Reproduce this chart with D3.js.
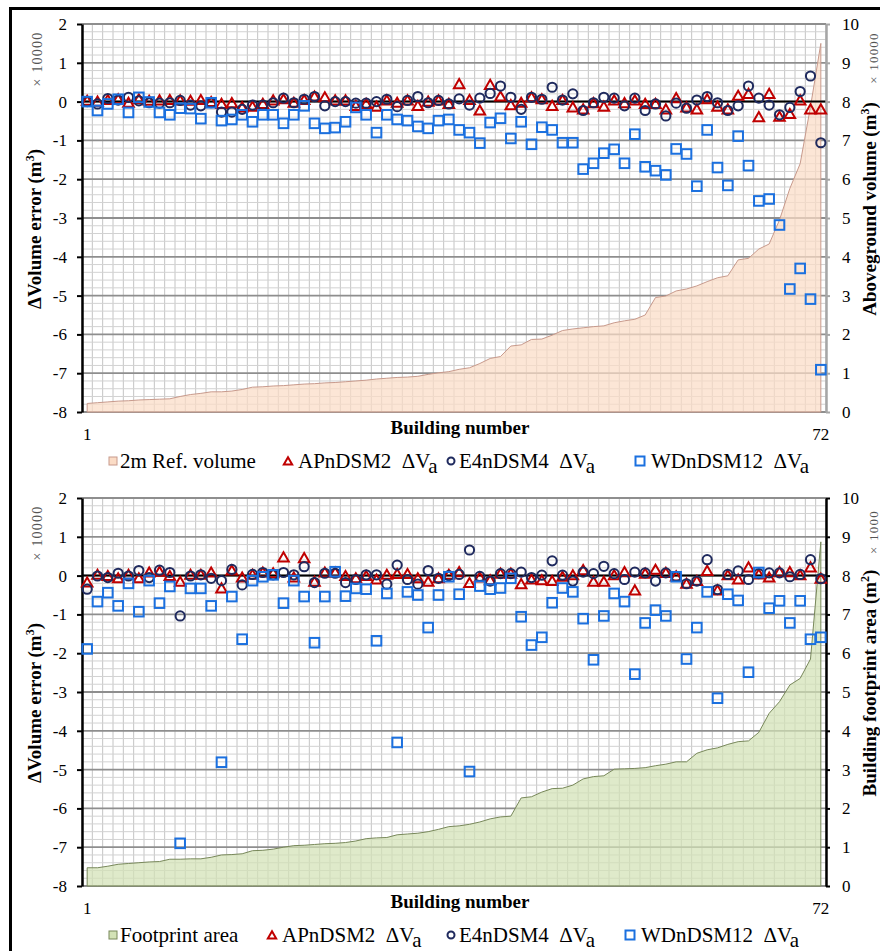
<!DOCTYPE html>
<html>
<head>
<meta charset="utf-8">
<script src="https://cdn.jsdelivr.net/npm/d3@7/dist/d3.min.js"></script>
<style>
  body { margin: 0; background: #fff; }
</style>
</head>
<body>
<script>
// DATA (errors in x10000 m3, volume in x10000 m3, area in x1000 m2)

var buildings = d3.range(1, 73);

var refVolume = [0.22, 0.24, 0.26, 0.28, 0.29, 0.31, 0.32, 0.33, 0.34, 0.40, 0.45, 0.48, 0.52, 0.52, 0.54, 0.58, 0.64, 0.65,
  0.67, 0.68, 0.70, 0.72, 0.73, 0.75, 0.76, 0.78, 0.80, 0.82, 0.85, 0.87, 0.89, 0.90, 0.92, 0.97, 1.01, 1.04,
  1.10, 1.14, 1.25, 1.38, 1.43, 1.70, 1.73, 1.87, 1.88, 1.98, 2.10, 2.14, 2.17, 2.20, 2.22, 2.30, 2.35, 2.39,
  2.50, 2.95, 2.99, 3.12, 3.17, 3.25, 3.36, 3.46, 3.51, 3.92, 3.96, 4.20, 4.33, 4.95, 5.76, 6.40, 7.87, 9.50];

var volAPn = [0.02, 0.00, 0.04, 0.06, -0.03, 0.06, 0.02, 0.03, 0.04, 0.03, 0.02, 0.04, -0.01, -0.06, -0.04, -0.15, -0.13, -0.06,
  0.03, 0.06, -0.03, 0.04, 0.13, 0.11, 0.03, 0.03, -0.11, -0.06, -0.13, 0.03, -0.03, 0.03, -0.11, 0.00, 0.03, -0.06,
  0.45, 0.04, -0.23, 0.43, 0.13, -0.09, -0.03, 0.11, 0.06, -0.11, 0.04, -0.15, -0.20, -0.04, -0.13, 0.03, -0.04, 0.03,
  -0.06, -0.06, -0.20, 0.09, -0.15, -0.20, 0.06, -0.13, -0.20, 0.15, 0.20, -0.40, 0.20, -0.39, -0.32, 0.03, -0.20, -0.20];

var volE4n = [0.00, -0.06, 0.08, 0.04, 0.11, 0.02, -0.03, -0.04, -0.03, 0.03, -0.09, -0.11, -0.03, -0.27, -0.27, -0.20, -0.09, -0.09,
  -0.03, 0.09, -0.03, 0.06, 0.13, -0.11, 0.00, 0.00, -0.04, -0.04, 0.00, 0.06, -0.13, 0.03, 0.13, -0.03, 0.03, -0.06,
  0.07, -0.09, 0.09, 0.21, 0.40, 0.11, -0.20, 0.11, 0.06, 0.37, 0.04, 0.20, -0.23, -0.03, 0.11, 0.09, -0.11, 0.09,
  -0.23, -0.06, -0.37, -0.04, -0.17, 0.04, 0.13, -0.03, -0.23, -0.11, 0.40, 0.09, -0.09, -0.34, -0.15, 0.26, 0.66, -1.06];

var volWDn = [0.00, -0.23, -0.06, 0.06, -0.28, 0.11, -0.01, -0.28, -0.34, -0.17, -0.18, -0.44, -0.03, -0.49, -0.46, -0.34, -0.52, -0.34,
  -0.34, -0.56, -0.34, -0.11, -0.56, -0.69, -0.67, -0.52, -0.15, -0.34, -0.80, -0.34, -0.46, -0.49, -0.64, -0.69, -0.49, -0.46,
  -0.73, -0.80, -1.07, -0.54, -0.43, -0.95, -0.52, -1.10, -0.66, -0.73, -1.06, -1.06, -1.74, -1.59, -1.33, -1.23, -1.59, -0.84,
  -1.68, -1.78, -1.89, -1.22, -1.35, -2.18, -0.73, -1.70, -2.16, -0.89, -1.65, -2.56, -2.51, -3.18, -4.83, -4.30, -5.09, -6.91];

var footprint = [0.47, 0.47, 0.51, 0.56, 0.58, 0.60, 0.62, 0.63, 0.69, 0.69, 0.70, 0.70, 0.74, 0.80, 0.81, 0.83, 0.91, 0.92,
  0.95, 1.00, 1.04, 1.05, 1.07, 1.09, 1.10, 1.12, 1.16, 1.22, 1.24, 1.25, 1.32, 1.34, 1.36, 1.40, 1.46, 1.53,
  1.55, 1.59, 1.65, 1.73, 1.78, 1.80, 2.27, 2.30, 2.42, 2.51, 2.52, 2.60, 2.76, 2.82, 2.84, 3.01, 3.02, 3.03,
  3.05, 3.10, 3.14, 3.20, 3.20, 3.42, 3.51, 3.56, 3.65, 3.72, 3.74, 3.96, 4.45, 4.75, 5.18, 5.35, 5.85, 8.87];

var areaAPn = [-0.18, 0.02, -0.01, -0.07, 0.02, -0.07, 0.08, 0.10, -0.01, -0.16, 0.02, 0.02, 0.08, -0.33, 0.13, -0.05, 0.02, 0.08,
  0.06, 0.47, -0.05, 0.45, -0.16, 0.08, 0.08, -0.01, -0.07, -0.01, -0.10, 0.02, 0.04, 0.04, -0.07, -0.16, -0.07, 0.02,
  0.09, -0.19, -0.05, -0.12, 0.05, 0.05, -0.22, -0.10, -0.12, -0.14, -0.03, 0.01, 0.14, -0.16, -0.16, 0.01, 0.09, -0.38,
  0.05, 0.15, 0.07, -0.02, -0.21, -0.14, 0.12, -0.38, 0.01, -0.10, 0.21, 0.03, -0.05, 0.09, 0.09, 0.01, 0.21, -0.08];

var areaE4n = [-0.35, -0.01, -0.05, 0.06, -0.01, 0.13, -0.05, 0.14, 0.08, -1.04, -0.01, 0.02, -0.07, -0.13, 0.16, -0.24, 0.03, 0.08,
  0.02, 0.08, 0.02, 0.23, -0.18, 0.06, 0.06, -0.18, -0.10, 0.02, 0.02, -0.22, 0.27, -0.10, -0.22, 0.13, -0.07, 0.00,
  0.03, 0.66, -0.02, -0.14, 0.05, 0.05, 0.09, -0.05, 0.01, 0.38, 0.01, -0.14, 0.09, 0.05, 0.24, 0.05, -0.10, 0.09,
  0.07, -0.14, 0.07, -0.02, -0.21, -0.14, 0.41, -0.36, 0.03, 0.12, -0.10, 0.05, 0.07, 0.07, -0.03, 0.03, 0.41, -0.08];

var areaWDn = [-1.89, -0.67, -0.44, -0.78, -0.20, -0.93, -0.13, -0.71, -0.28, -6.90, -0.33, -0.33, -0.78, -4.81, -0.54, -1.64, -0.13, -0.03,
  0.02, -0.71, -0.13, -0.54, -1.73, -0.54, 0.10, -0.53, -0.33, -0.35, -1.68, -0.46, -4.30, -0.42, -0.50, -1.34, -0.50, -0.03,
  -0.48, -5.05, -0.27, -0.35, -0.32, -0.07, -1.06, -1.79, -1.59, -0.70, -0.32, -0.42, -1.11, -2.17, -1.04, -0.46, -0.67, -2.54,
  -1.22, -0.89, -1.04, -0.03, -2.15, -1.34, -0.42, -3.16, -0.48, -0.64, -2.49, 0.08, -0.84, -0.65, -1.22, -0.65, -1.64, -1.59];

var leftTicks = d3.range(-8, 3);
var rightTicks = d3.range(0, 11);

//SET SVG

var width = 880, height = 951;
var plotLeft = 82, plotRight = 826, plotH = 388;
var serif = "Liberation Serif";

var svg = d3.select("body")
  .append("svg")
  .attr("width", width)
  .attr("height", height)
  .style("font-family", serif);

// outer frame
svg.append("rect")
  .attr("x", 10.5).attr("y", 8.5)
  .attr("width", 900).attr("height", 1000)
  .attr("fill", "none")
  .attr("stroke", "#000")
  .attr("stroke-width", 3);

var x = d3.scaleLinear().domain([0.5, 72.5]).range([plotLeft, plotRight]);

var triPath = d3.symbol().type(d3.symbolTriangle).size(48)();

function drawPanel(cfg) {
  var top = cfg.top;
  var yL = d3.scaleLinear().domain([-8, 2]).range([top + plotH, top]);
  var yR = d3.scaleLinear().domain([0, 10]).range([top + plotH, top]);

  var g = svg.append("g");

  // grid
  var grid = g.append("g");
  grid.selectAll(".vgrid")
    .data(d3.range(0.5, 73, 1))
    .enter().append("line")
    .attr("x1", d => x(d)).attr("x2", d => x(d))
    .attr("y1", top).attr("y2", top + plotH)
    .attr("stroke", "#c4c4c4").attr("stroke-width", 1);

  grid.selectAll(".minor")
    .data(d3.range(-80, 21, 2).filter(d => d % 10 != 0).map(d => d / 10))
    .enter().append("line")
    .attr("x1", plotLeft).attr("x2", plotRight)
    .attr("y1", d => yL(d)).attr("y2", d => yL(d))
    .attr("stroke", "#d2d2d2").attr("stroke-width", 1);

  grid.selectAll(".major")
    .data(leftTicks)
    .enter().append("line")
    .attr("x1", plotLeft).attr("x2", plotRight)
    .attr("y1", d => yL(d)).attr("y2", d => yL(d))
    .attr("stroke", "#8e8e8e").attr("stroke-width", 1.8);

  // area on right axis
  var area = d3.area()
    .x((d, i) => x(buildings[i]))
    .y0(yR(0))
    .y1(d => yR(d));

  g.append("path")
    .datum(cfg.areaData)
    .attr("d", area)
    .attr("fill", cfg.areaFill)
    .attr("fill-opacity", 0.72)
    .attr("stroke", cfg.areaStroke)
    .attr("stroke-width", 1);

  // zero line
  g.append("line")
    .attr("x1", plotLeft).attr("x2", plotRight)
    .attr("y1", yL(0)).attr("y2", yL(0))
    .attr("stroke", "#000").attr("stroke-width", 2);

  // axes
  var axL = g.append("g")
    .attr("transform", "translate(" + plotLeft + ",0)")
    .call(d3.axisLeft(yL).tickValues(leftTicks).tickSize(5).tickSizeOuter(0).tickPadding(10).tickFormat(d => String(d)));
  axL.style("font-family", serif).attr("font-size", 17);
  axL.select(".domain").attr("stroke", "#000").attr("stroke-width", 2.5);
  axL.selectAll(".tick line").attr("stroke", "#000").attr("stroke-width", 2);
  axL.selectAll("text").attr("fill", "#000");

  var axR = g.append("g")
    .attr("transform", "translate(" + plotRight + ",0)")
    .call(d3.axisRight(yR).tickValues(rightTicks).tickSize(4).tickSizeOuter(0).tickPadding(12));
  axR.style("font-family", serif).attr("font-size", 17);
  axR.select(".domain").attr("stroke", cfg.rightAxisColor).attr("stroke-width", 2.5);
  axR.selectAll(".tick line").attr("stroke", cfg.rightAxisColor).attr("stroke-width", 2);
  axR.selectAll("text").attr("fill", "#000");

  // series
  g.append("g").selectAll("path")
    .data(cfg.apn)
    .enter().append("path")
    .attr("d", triPath)
    .attr("transform", (d, i) => "translate(" + x(buildings[i]) + "," + (yL(d) + 1) + ")")
    .attr("fill", "none")
    .attr("stroke", "#c00000")
    .attr("stroke-width", 2);

  g.append("g").selectAll("circle")
    .data(cfg.e4n)
    .enter().append("circle")
    .attr("cx", (d, i) => x(buildings[i]))
    .attr("cy", d => yL(d))
    .attr("r", 4.6)
    .attr("fill", "none")
    .attr("stroke", "#1f2a5e")
    .attr("stroke-width", 2);

  g.append("g").selectAll("rect")
    .data(cfg.wdn)
    .enter().append("rect")
    .attr("x", (d, i) => x(buildings[i]) - 4.8)
    .attr("y", d => yL(d) - 4.8)
    .attr("width", 9.6).attr("height", 9.6)
    .attr("fill", "none")
    .attr("stroke", "#1b70df")
    .attr("stroke-width", 2);

  // x labels
  g.append("text").attr("x", x(1)).attr("y", top + 416)
    .attr("text-anchor", "middle").attr("font-size", 17).text("1");
  g.append("text").attr("x", x(72)).attr("y", top + 416)
    .attr("text-anchor", "middle").attr("font-size", 17).text("72");
  g.append("text").attr("x", 460).attr("y", top + 410)
    .attr("text-anchor", "middle").attr("font-size", 19).attr("font-weight", "bold")
    .text("Building number");

  // left title
  var lt = g.append("text")
    .attr("transform", "translate(41," + (top + 205) + ") rotate(-90)")
    .attr("text-anchor", "middle").attr("font-size", 19).attr("font-weight", "bold");
  lt.append("tspan").text("\u0394Volume error (m");
  lt.append("tspan").attr("dy", -7).attr("font-size", 12).text("3");
  lt.append("tspan").attr("dy", 7).text(")");

  g.append("text")
    .attr("transform", "translate(42," + (top + 35) + ") rotate(-90)")
    .attr("text-anchor", "middle").attr("font-size", 14).attr("letter-spacing", 1.2)
    .attr("fill", "#555").text("\u00d7 10000");

  // right title
  var rt = g.append("text")
    .attr("transform", "translate(876," + (top + 185) + ") rotate(-90)")
    .attr("text-anchor", "middle").attr("font-size", 19).attr("font-weight", "bold");
  rt.append("tspan").text(cfg.rightTitle + " (m");
  rt.append("tspan").attr("dy", -7).attr("font-size", 12).text(cfg.rightSup);
  rt.append("tspan").attr("dy", 7).text(")");

  g.append("text")
    .attr("transform", "translate(878," + (top + 34) + ") rotate(-90)")
    .attr("text-anchor", "middle").attr("font-size", 13).attr("letter-spacing", 1.2)
    .attr("fill", "#555").text(cfg.rightMult);

  // legend
  var ly = top + 444;
  var lg = g.append("g").attr("font-size", 21);
  var L = cfg.legend;

  lg.append("rect").attr("x", L[0] - 4).attr("y", ly - 11).attr("width", 8).attr("height", 8)
    .attr("fill", cfg.areaFill).attr("stroke", cfg.areaStroke).attr("stroke-width", 1);
  lg.append("text").attr("x", L[0] + 7).attr("y", ly).text(cfg.areaLabel);

  lg.append("path").attr("d", d3.symbol().type(d3.symbolTriangle).size(30)())
    .attr("transform", "translate(" + L[1] + "," + (ly - 6) + ")")
    .attr("fill", "none").attr("stroke", "#c00000").attr("stroke-width", 2);
  lg.append("circle").attr("cx", L[2]).attr("cy", ly - 7).attr("r", 3.5)
    .attr("fill", "none").attr("stroke", "#1f2a5e").attr("stroke-width", 2);
  lg.append("rect").attr("x", L[3] - 4.5).attr("y", ly - 11.5).attr("width", 9).attr("height", 9)
    .attr("fill", "none").attr("stroke", "#1b70df").attr("stroke-width", 2);

  var names = ["APnDSM2", "E4nDSM4", "WDnDSM12"];
  var textX = [L[1] + 10, L[2] + 8, L[3] + 11];
  names.forEach(function (n, k) {
    var t = lg.append("text").attr("x", textX[k]).attr("y", ly);
    t.append("tspan").text(n + "\u00a0 \u0394V");
    t.append("tspan").attr("dy", 5).text("a");
  });
}

drawPanel({
  top: 24,
  areaData: refVolume,
  areaFill: "#fbdcc6",
  areaStroke: "#c89a8c",
  areaLabel: "2m Ref. volume",
  apn: volAPn, e4n: volE4n, wdn: volWDn,
  rightAxisColor: "#a6a6a6",
  rightTitle: "Aboveground volume",
  rightSup: "3",
  rightMult: "\u00d7 10000",
  legend: [113, 288, 451, 640]
});

drawPanel({
  top: 498,
  areaData: footprint,
  areaFill: "#d3e2b6",
  areaStroke: "#78885a",
  areaLabel: "Footprint area",
  apn: areaAPn, e4n: areaE4n, wdn: areaWDn,
  rightAxisColor: "#000",
  rightTitle: "Building footprint area",
  rightSup: "2",
  rightMult: "\u00d7 1000",
  legend: [113, 272, 451, 630]
});
</script>
</body>
</html>
